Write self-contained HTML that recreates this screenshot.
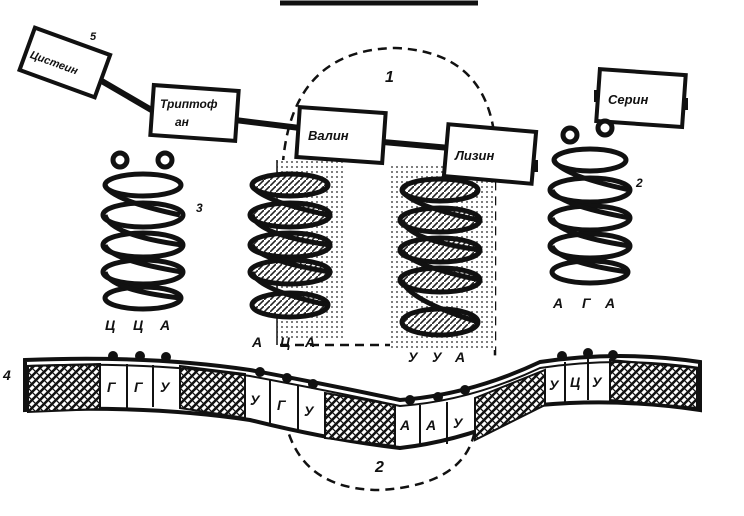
<!DOCTYPE html>
<html><head><meta charset="utf-8"><style>
html,body{margin:0;padding:0;background:#fff;}
svg{display:block}
text{font-family:"Liberation Sans","DejaVu Sans",sans-serif;font-style:italic;font-weight:bold;fill:#111}
</style></head><body>
<svg width="744" height="516" viewBox="0 0 744 516" xmlns="http://www.w3.org/2000/svg">
<defs>
<pattern id="hx" width="8" height="8" patternUnits="userSpaceOnUse">
<rect width="8" height="8" fill="#fff"/>
<path d="M0 8L8 0M-2 2L2 -2M6 10L10 6" stroke="#111" stroke-width="2.5"/>
<path d="M0 0L8 8" stroke="#111" stroke-width="1.2"/>
</pattern>
<pattern id="dots" width="5" height="5" patternUnits="userSpaceOnUse">
<rect width="5" height="5" fill="#fff"/><circle cx="2" cy="2" r="1" fill="#555"/>
</pattern>
<pattern id="diag" width="6" height="6" patternUnits="userSpaceOnUse">
<rect width="6" height="6" fill="#fff"/><path d="M0 6L6 0" stroke="#222" stroke-width="1.6"/>
</pattern>
</defs>
<path d="M280 3L478 3" stroke="#111" stroke-width="5"/>
<path d="M282 300 L282 180 Q285 50 395 48 Q505 52 495 180 L495 360" fill="none" stroke="#111" stroke-width="2.5" stroke-dasharray="9 6"/>
<path d="M280 345 L495 345" fill="none" stroke="#111" stroke-width="2.5" stroke-dasharray="9 6"/>
<path d="M285 420 Q300 490 380 490 Q465 485 475 430" fill="none" stroke="#111" stroke-width="2.5" stroke-dasharray="9 6"/>
<text x="385" y="82" font-size="16">1</text>
<text x="375" y="472" font-size="16">2</text>
<rect x="277" y="160" width="68" height="180" fill="url(#dots)"/>
<rect x="390" y="165" width="105" height="185" fill="url(#dots)"/>
<path d="M100 80L160 115M235 120L300 128M383 142L450 148" stroke="#111" stroke-width="6"/>
<path d="M277 160L277 345" stroke="#111" stroke-width="1.5"/>
<rect x="532" y="160" width="6" height="12" fill="#111"/>
<rect x="594" y="90" width="6" height="12" fill="#111"/>
<rect x="682" y="98" width="6" height="12" fill="#111"/>
<g stroke="#111" stroke-width="4" fill="#fff">
<rect x="25" y="40" width="80" height="45" transform="rotate(20 65 62)"/>
<rect x="152" y="88" width="85" height="50" transform="rotate(4 195 113)"/>
<rect x="298" y="110" width="86" height="50" transform="rotate(4 340 135)"/>
<rect x="446" y="128" width="88" height="52" transform="rotate(5 490 154)"/>
<rect x="598" y="72" width="86" height="52" transform="rotate(4 640 98)"/>
</g>
<text x="30" y="70" font-size="11" transform="rotate(20 65 62)">Цистеин</text>
<text x="160" y="108" font-size="12">Триптоф</text><text x="175" y="126" font-size="12">ан</text>
<text x="308" y="140" font-size="13">Валин</text>
<text x="455" y="160" font-size="13">Лизин</text>
<text x="608" y="104" font-size="13">Серин</text>
<text x="90" y="40" font-size="11">5</text>
<text x="196" y="212" font-size="12">3</text>
<text x="636" y="187" font-size="12">2</text>
<text x="3" y="380" font-size="14">4</text>
<g stroke="#111" stroke-width="5" fill="#fff">
<ellipse cx="143" cy="185" rx="38" ry="11"/>
<ellipse cx="143" cy="215" rx="40" ry="12"/>
<ellipse cx="143" cy="245" rx="40" ry="12"/>
<ellipse cx="143" cy="272" rx="40" ry="12"/>
<ellipse cx="143" cy="298" rx="38" ry="11"/>
<path d="M105 185Q110 200 180 215M105 215Q110 235 182 245M105 245Q110 260 182 272M105 272Q110 290 180 298" fill="none"/>
<circle cx="120" cy="160" r="7"/><circle cx="165" cy="160" r="7"/>
</g>
<g stroke="#111" stroke-width="5" fill="url(#diag)">
<ellipse cx="290" cy="185" rx="38" ry="11"/>
<ellipse cx="290" cy="215" rx="40" ry="12"/>
<ellipse cx="290" cy="245" rx="40" ry="12"/>
<ellipse cx="290" cy="272" rx="40" ry="12"/>
<ellipse cx="290" cy="305" rx="38" ry="12"/>
<path d="M252 185Q258 200 328 215M252 215Q258 235 330 245M252 245Q258 260 330 272M252 272Q258 290 328 305" fill="none"/>
<ellipse cx="440" cy="190" rx="38" ry="11"/>
<ellipse cx="440" cy="220" rx="40" ry="12"/>
<ellipse cx="440" cy="250" rx="40" ry="12"/>
<ellipse cx="440" cy="280" rx="40" ry="12"/>
<ellipse cx="440" cy="322" rx="38" ry="13"/>
<path d="M402 190Q408 205 478 220M402 220Q408 240 480 250M402 250Q408 265 480 280M402 280Q408 300 478 322" fill="none"/>
</g>
<g stroke="#111" stroke-width="5" fill="#fff">
<ellipse cx="590" cy="160" rx="36" ry="11"/>
<ellipse cx="590" cy="190" rx="40" ry="12"/>
<ellipse cx="590" cy="218" rx="40" ry="12"/>
<ellipse cx="590" cy="246" rx="40" ry="12"/>
<ellipse cx="590" cy="272" rx="38" ry="11"/>
<path d="M554 160Q560 175 630 190M552 190Q558 205 630 218M552 218Q558 235 630 246M552 246Q558 262 628 272" fill="none"/>
<circle cx="570" cy="135" r="7"/><circle cx="605" cy="128" r="7"/>
</g>
<g font-size="14">
<text x="105" y="330">Ц</text><text x="133" y="330">Ц</text><text x="160" y="330">А</text>
<text x="252" y="347">А</text><text x="280" y="347">Ц</text><text x="305" y="347">А</text>
<text x="408" y="362">У</text><text x="432" y="362">У</text><text x="455" y="362">А</text>
<text x="553" y="308">А</text><text x="582" y="308">Г</text><text x="605" y="308">А</text>
</g>
<path d="M25 360 Q150 355 250 370 Q330 385 400 400 Q470 395 540 362 Q620 350 700 362 L700 410 Q620 398 540 405 Q470 440 400 448 Q330 440 250 420 Q150 405 25 410 Z" fill="#fff" stroke="#111" stroke-width="4"/>
<g stroke="#111" stroke-width="2">
<path d="M28 366 L100 364 L100 409 L28 412Z" fill="url(#hx)"/>
<path d="M180 366 L245 374 L245 418 L180 408Z" fill="url(#hx)"/>
<path d="M325 393 L395 405 L395 446 L325 438Z" fill="url(#hx)"/>
<path d="M475 398 L545 370 L545 405 L475 440Z" fill="url(#hx)"/>
<path d="M610 360 L697 368 L697 408 L610 400Z" fill="url(#hx)"/>
<path d="M100 364V409M127 364V408M153 365V407M180 366V408M245 375V418M270 380V425M298 386V432M325 393V438M395 405V446M420 405V446M447 402V444M475 398V440M545 370V405M565 362V403M588 358V400M610 360V400" fill="none"/>
</g>
<path d="M25 360 Q150 355 250 370 Q330 385 400 400 Q470 395 540 362 Q620 350 700 362" fill="none" stroke="#111" stroke-width="2" transform="translate(0,6)"/>
<g fill="#111">
<circle cx="113" cy="356" r="5"/><circle cx="140" cy="356" r="5"/><circle cx="166" cy="357" r="5"/>
<circle cx="260" cy="372" r="5"/><circle cx="287" cy="378" r="5"/><circle cx="313" cy="384" r="5"/>
<circle cx="410" cy="400" r="5"/><circle cx="438" cy="397" r="5"/><circle cx="465" cy="390" r="5"/>
<circle cx="562" cy="356" r="5"/><circle cx="588" cy="353" r="5"/><circle cx="613" cy="355" r="5"/>
</g>
<g font-size="14">
<text x="107" y="392">Г</text><text x="134" y="392">Г</text><text x="160" y="392">У</text>
<text x="250" y="405">У</text><text x="277" y="410">Г</text><text x="304" y="416">У</text>
<text x="400" y="430">А</text><text x="426" y="430">А</text><text x="453" y="428">У</text>
<text x="549" y="390">У</text><text x="570" y="387">Ц</text><text x="592" y="387">У</text>
</g>
</svg>
</body></html>
